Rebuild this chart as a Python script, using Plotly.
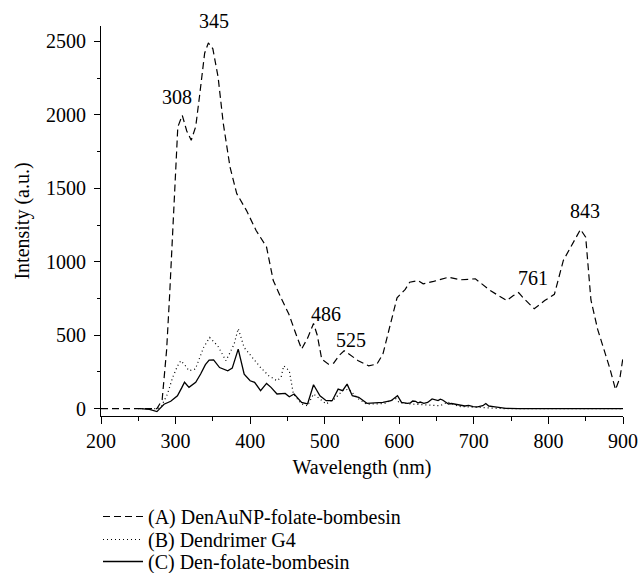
import plotly.graph_objects as go
import numpy as np

# (A) DenAuNP-folate-bombesin
a_x = [200, 250, 275, 282, 288, 292, 296.5, 300, 303, 309, 315, 321, 327, 332, 339, 344, 350, 357, 364, 373,
       382, 395, 408, 422, 431, 442, 452, 462, 469, 477, 485, 490, 496, 505, 512, 519, 526, 533, 545, 559,
       570, 578, 587, 597, 608, 614, 625, 632, 646, 666, 682, 702, 722, 744, 753, 760, 767, 781, 795, 808,
       820, 832, 843, 850, 854, 857, 866, 874, 882, 890, 896, 900]
a_y = [0, 0, 0, 60, 400, 770, 1213, 1600, 1918, 1997, 1890, 1827, 1920, 2122, 2420, 2490, 2450, 2258, 1941, 1645,
       1464, 1350, 1213, 1100, 872, 748, 642, 500, 405, 480, 580, 500, 337, 303, 310, 360, 394, 370, 326, 292,
       303, 371, 552, 755, 812, 861, 872, 850, 866, 895, 877, 884, 804, 736, 770, 790, 750, 680, 736, 778,
       1009, 1122, 1220, 1167, 918, 740, 540, 416, 280, 130, 213, 348]

# (B) Dendrimer G4
b_x = [250, 275, 280, 289, 296, 302.5, 307, 312, 318, 326.5, 337.5, 345.7, 356.6, 367.6, 378.5, 384, 392, 403,
       414, 425, 436, 441.5, 445, 452.5, 458, 469, 477, 485, 493.6, 502, 513, 524, 532, 545.6, 556, 580, 595,
       600, 620, 640, 655, 665, 680, 700, 720, 740, 900]
b_y = [0, 0, 7, 98, 211, 290, 326, 300, 258, 269, 416, 484, 427, 326, 439, 545, 416, 348,
       280, 224, 190, 213, 292, 258, 100, 32, 20, 100, 66, 32, 66, 122, 133, 66, 30, 35, 70,
       40, 30, 25, 20, 45, 15, 10, 5, 0, 0]

# (C) Den-folate-bombesin
c_x = [253, 265, 275, 280, 284.5, 293.5, 302.5, 308, 312, 318, 327, 333.6, 340, 345, 351, 359, 370, 376, 384,
       392, 400, 406, 414, 422, 428, 436, 447, 452.5, 459, 469, 477, 485, 493.6, 502, 510, 518, 524, 530, 537,
       545.6, 556.6, 578, 589, 597.6, 603, 611, 615, 618, 622, 625, 628, 633, 638, 644, 648, 652, 655, 658,
       662, 666, 670, 676, 682.5, 688, 693, 699, 705, 712, 716, 720, 726, 730, 735, 743, 760, 900]
c_y = [0, -5, -20, 10, 30, 50, 88, 140, 180, 145, 180, 236, 300, 330, 332, 280, 258, 276, 405,
       235, 190, 179, 122, 172, 145, 100, 104, 81, 100, 43, 32, 163, 88, 54, 54, 133, 122, 167, 88,
       77, 36, 43, 54, 88, 43, 36, 40, 52, 50, 38, 45, 36, 42, 66, 62, 55, 65, 59,
       45, 32, 35, 28, 20, 18, 22, 14, 12, 20, 35, 18, 14, 12, 5, 2, 0, 0]

series_names = ["(A) DenAuNP-folate-bombesin", "(B) Dendrimer G4", "(C) Den-folate-bombesin"]
peak_labels = [308, 345, 486, 525, 761, 843]
label_shift = {308: (-5, 20), 345: (5, 23), 486: (12, 12), 525: (8, 11), 761: (14, 15), 843: (5, 18)}

x_ticks = [200, 300, 400, 500, 600, 700, 800, 900]
y_ticks = [0, 500, 1000, 1500, 2000, 2500]

FONT = "Liberation Serif, Times New Roman, Times, serif"
FS = 20
font = dict(family=FONT, size=FS, color="black")

W, H = 639, 573
ML, MR, MT, MB = 101, 16, 26, 157
PW, PH = W - ML - MR, H - MT - MB

fig = go.Figure()
fig.add_trace(go.Scatter(x=a_x, y=a_y, mode="lines", name=series_names[0], legend="legend",
                         line=dict(color="black", width=1.2, dash="7px,4px")))
fig.add_trace(go.Scatter(x=b_x, y=b_y, mode="lines", name=series_names[1], legend="legend2",
                         line=dict(color="black", width=1.2, dash="1px,3px")))
fig.add_trace(go.Scatter(x=c_x, y=c_y, mode="lines", name=series_names[2], legend="legend3",
                         line=dict(color="black", width=1.3)))

for p in peak_labels:
    yv = float(np.interp(p, a_x, a_y))
    dx, dy = label_shift[p]
    fig.add_annotation(x=p, y=yv, text=str(p), showarrow=False, xshift=dx, yshift=dy, font=font)


def legend_at(center_px):
    top = center_px - 19
    return dict(xref="paper", yref="paper", x=(98 - ML) / PW, y=(MT + PH - top) / PH,
                xanchor="left", yanchor="top", itemwidth=40, font=font, bgcolor="rgba(0,0,0,0)")


fig.update_layout(
    width=W, height=H,
    margin=dict(l=ML, r=MR, t=MT, b=MB, autoexpand=False),
    paper_bgcolor="white", plot_bgcolor="white",
    font=font,
    showlegend=True,
    legend=legend_at(516),
    legend2=legend_at(539),
    legend3=legend_at(561),
    xaxis=dict(range=[200, 900], tickvals=x_ticks, ticks="outside", ticklen=7, tickwidth=1.2,
               showline=True, linecolor="black", linewidth=1.2, showgrid=False, zeroline=False,
               automargin=True,
               minor=dict(dtick=50, ticks="outside", ticklen=4, tickwidth=1.2, tickcolor="black"),
               tickcolor="black", title=dict(text="Wavelength (nm)", font=font, standoff=8),
               tickfont=font),
    yaxis=dict(range=[-50, 2605], tickvals=y_ticks, ticks="outside", ticklen=6, tickwidth=1.2,
               showline=True, linecolor="black", linewidth=1.2, showgrid=False, zeroline=False,
               automargin=True, ticklabelstandoff=4,
               minor=dict(dtick=250, ticks="outside", ticklen=3, tickwidth=1.2, tickcolor="black"),
               tickcolor="black", title=dict(text="Intensity (a.u.)", font=font, standoff=10),
               tickfont=font),
)

fig.write_html("out.html")
